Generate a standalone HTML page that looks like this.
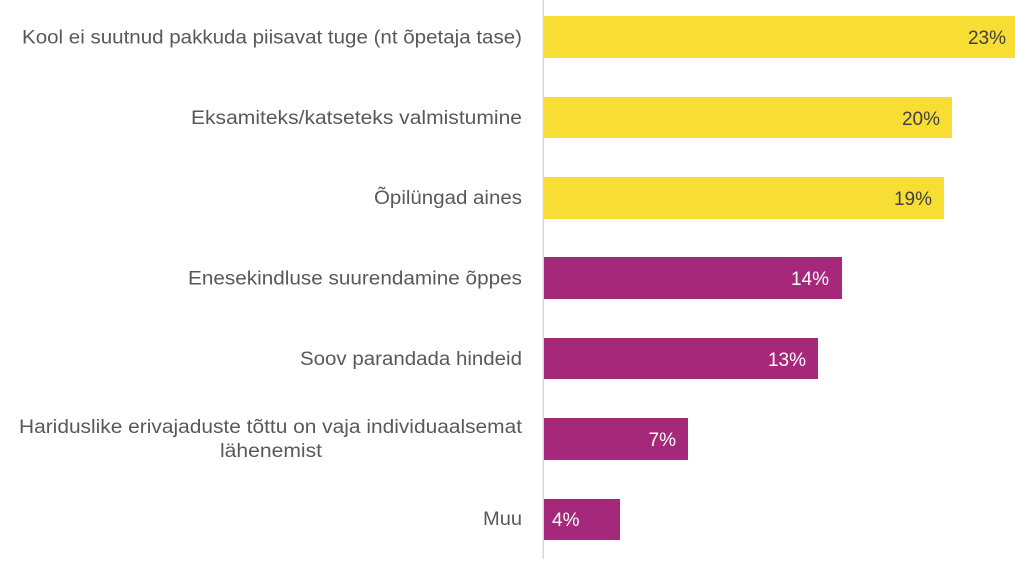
<!DOCTYPE html>
<html>
<head>
<meta charset="utf-8">
<style>
  html,body{margin:0;padding:0;background:#fff;}
  svg{display:block;}
  .lab{font-family:"Liberation Sans",sans-serif;font-size:19px;fill:#595959;}
  .val{font-family:"Liberation Sans",sans-serif;font-size:19px;}
</style>
</head>
<body>
<svg width="1015" height="563" viewBox="0 0 1015 563" xmlns="http://www.w3.org/2000/svg">
  <rect width="1015" height="563" fill="#fff"/>
  <!-- axis -->
  <line x1="543.3" y1="0" x2="543.3" y2="559" stroke="#d9d9d9" stroke-width="1.5"/>

  <!-- bars -->
  <rect x="544" y="16" width="475" height="42" fill="#F8DD34"/>
  <rect x="544" y="97" width="408" height="41" fill="#F8DD34"/>
  <rect x="544" y="177" width="400" height="42" fill="#F8DD34"/>
  <rect x="544" y="257" width="298" height="42" fill="#A5287A"/>
  <rect x="544" y="338" width="274" height="41" fill="#A5287A"/>
  <rect x="544" y="418" width="144" height="42" fill="#A5287A"/>
  <rect x="544" y="499" width="76" height="41" fill="#A5287A"/>

  <!-- value labels -->
  <text class="val" x="1006" y="44" text-anchor="end" fill="#404040">23%</text>
  <text class="val" x="940" y="125" text-anchor="end" fill="#404040">20%</text>
  <text class="val" x="932" y="205" text-anchor="end" fill="#404040">19%</text>
  <text class="val" x="829" y="285" text-anchor="end" fill="#ffffff">14%</text>
  <text class="val" x="806" y="366" text-anchor="end" fill="#ffffff">13%</text>
  <text class="val" x="676" y="446" text-anchor="end" fill="#ffffff">7%</text>
  <text class="val" x="552" y="526" fill="#ffffff">4%</text>

  <!-- category labels -->
  <text class="lab" x="22" y="43.5" textLength="500" lengthAdjust="spacingAndGlyphs">Kool ei suutnud pakkuda piisavat tuge (nt õpetaja tase)</text>
  <text class="lab" x="191" y="124" textLength="331" lengthAdjust="spacingAndGlyphs">Eksamiteks/katseteks valmistumine</text>
  <text class="lab" x="374" y="204" textLength="148" lengthAdjust="spacingAndGlyphs">Õpilüngad aines</text>
  <text class="lab" x="188" y="284.5" textLength="334" lengthAdjust="spacingAndGlyphs">Enesekindluse suurendamine õppes</text>
  <text class="lab" x="300" y="365" textLength="222" lengthAdjust="spacingAndGlyphs">Soov parandada hindeid</text>
  <text class="lab" x="19" y="433" textLength="503" lengthAdjust="spacingAndGlyphs">Hariduslike erivajaduste tõttu on vaja individuaalsemat</text>
  <text class="lab" x="220" y="457" textLength="102" lengthAdjust="spacingAndGlyphs">lähenemist</text>
  <text class="lab" x="483" y="525" textLength="39" lengthAdjust="spacingAndGlyphs">Muu</text>
</svg>
</body>
</html>
